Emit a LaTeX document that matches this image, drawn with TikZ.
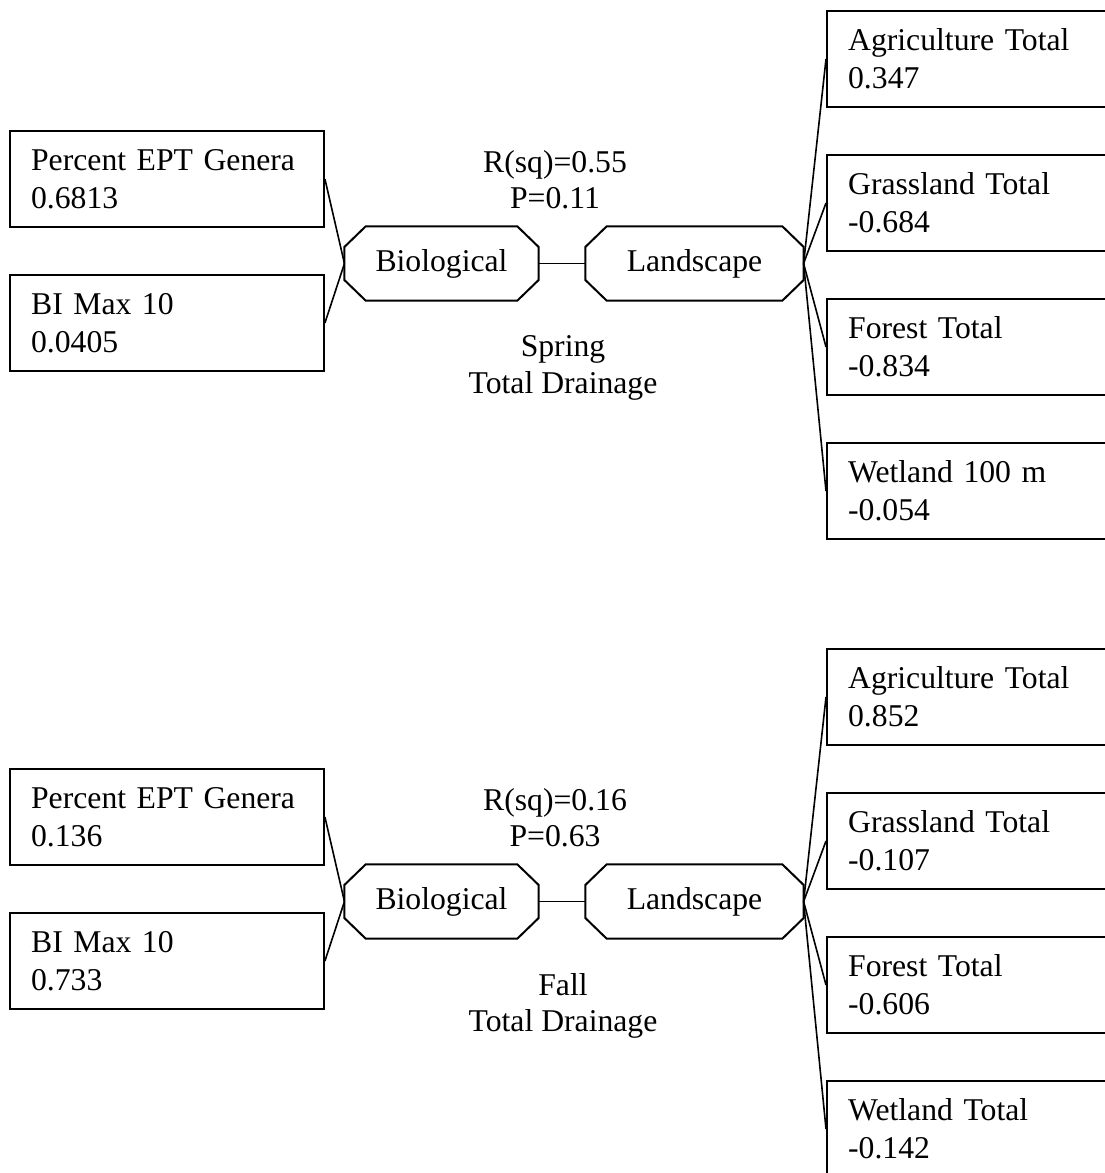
\documentclass[tikz,border=0pt]{standalone}
\usepackage{fontspec}
\setmainfont{Liberation Serif}

% octagon outline round a named node
\newcommand{\octo}[1]{%
  \draw[line width=0.75pt] ([xshift=7.9pt]#1.north west) -- ([xshift=-7.9pt]#1.north east)
    -- ([yshift=6.2pt]#1.east) -- ([yshift=-6.2pt]#1.east)
    -- ([xshift=-7.9pt]#1.south east) -- ([xshift=7.9pt]#1.south west)
    -- ([yshift=-6.2pt]#1.west) -- ([yshift=6.2pt]#1.west) -- cycle;}

\begin{document}
\begin{tikzpicture}[x=0.374pt,y=-0.374pt]
  \tikzstyle{var}=[rectangle,draw,line width=0.75pt,minimum height=35.9pt,text width=101.6pt,inner xsep=7.9pt,inner ysep=0pt,align=left,anchor=west,font=\fontsize{11.85}{14.2}\selectfont]
  \tikzstyle{grp}=[rectangle,minimum height=27.3pt,inner sep=0pt,font=\fontsize{11.85}{14.2}\selectfont]
  \tikzstyle{lbl}=[align=center,font=\fontsize{11.85}{13.6}\selectfont]
  \tikzstyle{lnk}=[line width=0.6pt]

  \useasboundingbox (0,0) rectangle (1104,1173);

  % spring
  \node[var] (pe1) at (9,179) {Percent EPT Genera\\0.6813};
  \node[var] (bm1) at (9,323) {BI Max 10\\0.0405};
  \node[grp,minimum width=72.2pt] (bi1) at (441.5,263.5) {Biological};
  \node[grp,minimum width=81.2pt] (la1) at (694.5,263.5) {Landscape};
  \octo{bi1}
  \octo{la1}
  \node[var] (ag1) at (826,59) {Agriculture Total\\0.347};
  \node[var] (gr1) at (826,203) {Grassland Total\\-0.684};
  \node[var] (fo1) at (826,347) {Forest Total\\-0.834};
  \node[var] (we1) at (826,491) {Wetland 100 m\\-0.054};
  \node[lbl] (st1) at (555,180) {R(sq)=0.55\\P=0.11};
  \node[lbl] (cap1) at (563,368) {Spring\\Total Drainage};

  \draw[lnk] (pe1.east) -- (bi1.west);
  \draw[lnk] (bm1.east) -- (bi1.west);
  \draw[lnk] (bi1.east) -- (la1.west);
  \draw[lnk] (la1.east) -- (ag1.west);
  \draw[lnk] (la1.east) -- (gr1.west);
  \draw[lnk] (la1.east) -- (fo1.west);
  \draw[lnk] (la1.east) -- (we1.west);

  % fall
  \node[var] (pe2) at (9,817) {Percent EPT Genera\\0.136};
  \node[var] (bm2) at (9,961) {BI Max 10\\0.733};
  \node[grp,minimum width=72.2pt] (bi2) at (441.5,901.5) {Biological};
  \node[grp,minimum width=81.2pt] (la2) at (694.5,901.5) {Landscape};
  \octo{bi2}
  \octo{la2}
  \node[var] (ag2) at (826,697) {Agriculture Total\\0.852};
  \node[var] (gr2) at (826,841) {Grassland Total\\-0.107};
  \node[var] (fo2) at (826,985) {Forest Total\\-0.606};
  \node[var] (we2) at (826,1129) {Wetland Total\\-0.142};
  \node[lbl] (st2) at (555,818) {R(sq)=0.16\\P=0.63};
  \node[lbl] (cap2) at (563,1006) {Fall\\Total Drainage};

  \draw[lnk] (pe2.east) -- (bi2.west);
  \draw[lnk] (bm2.east) -- (bi2.west);
  \draw[lnk] (bi2.east) -- (la2.west);
  \draw[lnk] (la2.east) -- (ag2.west);
  \draw[lnk] (la2.east) -- (gr2.west);
  \draw[lnk] (la2.east) -- (fo2.west);
  \draw[lnk] (la2.east) -- (we2.west);
\end{tikzpicture}
\end{document}
